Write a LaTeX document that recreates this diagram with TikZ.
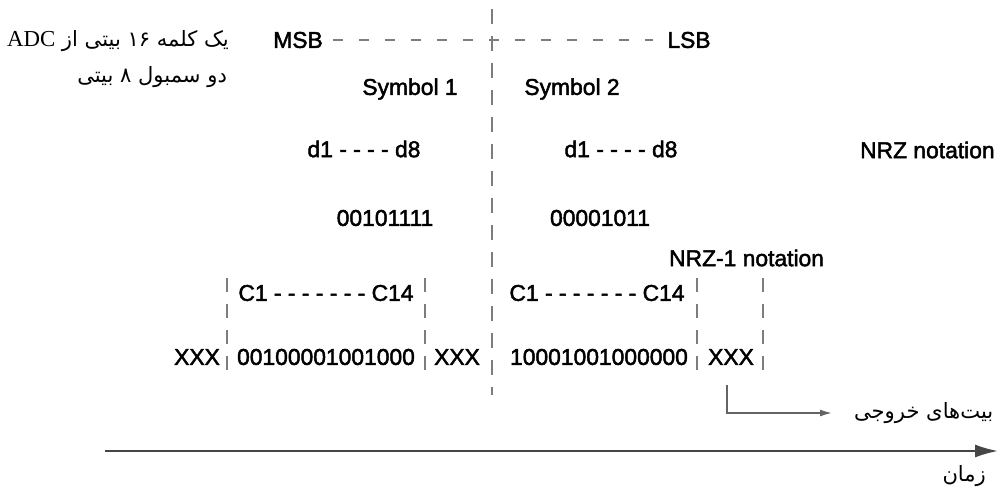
\documentclass[tikz,border=0pt]{standalone}
\usepackage{fontspec}
\usepackage{tikz}
\setmainfont{Liberation Sans}[RawFeature={embolden=2}]
\newfontfamily\farsifont[Script=Arabic]{DejaVu Sans}
\newfontfamily\adcfont{Liberation Serif}
\TeXXeTstate=1
\usetikzlibrary{arrows.meta}
\definecolor{dashgray}{RGB}{125,125,125}
\definecolor{axisgray}{RGB}{70,70,70}

\begin{document}
\begin{tikzpicture}[x=0.02cm, y=-0.02cm,
    lbl/.style={font=\fontsize{13}{15}\selectfont, inner sep=1pt},
    farsi/.style={font=\farsifont\fontsize{12}{15}\selectfont, inner sep=1pt},
    divline/.style={draw=dashgray, line width=1pt, dash pattern=on 3mm off 2.4mm},
    msbline/.style={draw=dashgray, line width=1pt, dash pattern=on 2mm off 3.2mm},
    tickline/.style={draw=dashgray, line width=1pt, dash pattern=on 2.8mm off 2.4mm}]
        \useasboundingbox (0,0) rectangle (1000,500);

        % Word from the ADC
        \node[farsi, anchor=east] (adcline) at (231,41) {\beginR یک کلمه ۱۶ بیتی از \beginL{\adcfont\fontsize{13}{15}\selectfont ADC}\endL\endR};
        \node[farsi, anchor=east] (symline) at (229,77) {\beginR دو سمبول ۸ بیتی\endR};

        % MSB / LSB and the symbol split
        \node[lbl] (msb) at (298,40) {MSB};
        \node[lbl] (lsb) at (689,40) {LSB};
        \coordinate (ctop) at (492,9);
        \coordinate (cbot) at (492,395);
        \draw[divline] (ctop) -- (cbot);
        \draw[msbline, shorten <=0.16cm, shorten >=0.24cm] (msb) -- (lsb);

        \node[lbl] (sym1) at (410,89) {Symbol 1};
        \node[lbl] (sym2) at (572,89) {Symbol 2};

        % NRZ bytes
        \node[lbl] (dfirst) at (364,149) {d1 - - - - d8};
        \node[lbl] (dsecond) at (621,149) {d1 - - - - d8};
        \node[lbl, anchor=west] (nrz) at (858,150) {NRZ notation};
        \node[lbl] (bytea) at (385,218) {00101111};
        \node[lbl] (byteb) at (600,218) {00001011};

        % NRZ-1 code words
        \node[lbl, anchor=west] (nrzi) at (667,258) {NRZ-1 notation};
        \node[lbl] (cfirst) at (326,293) {C1 - - - - - - - C14};
        \node[lbl] (csecond) at (597,293) {C1 - - - - - - - C14};
        \node[lbl] (xxxa) at (197,357) {XXX};
        \node[lbl] (codea) at (326,357) {00100001001000};
        \node[lbl] (xxxb) at (457,357) {XXX};
        \node[lbl] (codeb) at (599,357) {10001001000000};
        \node[lbl] (xxxc) at (731,357) {XXX};
        \draw[tickline] (227,278) -- (227,375) (425,278) -- (425,375)
            (697,278) -- (697,375) (763,278) -- (763,375);

        % Output bits
        \coordinate (outstart) at (727,385);
        \node[farsi, anchor=west] (outbits) at (852,413) {\beginR بیت‌های خروجی\endR};
        \draw[-{Latex[length=2.4mm, width=1.4mm]}, line width=0.9pt, dashgray!80!black, shorten >=0.4cm] (outstart) |- (outbits.west);

        % Time axis
        \coordinate (tstart) at (105,451);
        \coordinate (tend) at (998,451);
        \draw[-{Latex[length=4.6mm, width=2.6mm]}, line width=1.1pt, axisgray] (tstart) -- (tend);
        \node[farsi, anchor=east] (timelbl) at (988,476) {\beginR زمان\endR};
    \end{tikzpicture}
\end{document}
